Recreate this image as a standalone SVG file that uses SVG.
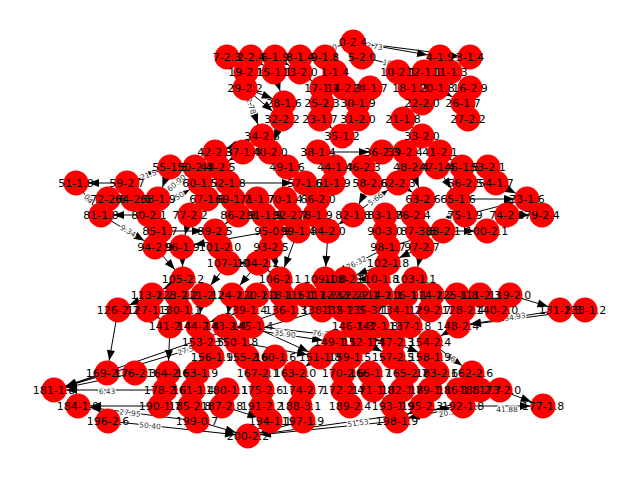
<svg xmlns="http://www.w3.org/2000/svg" width="640" height="480" viewBox="0 0 640 480">
<style>
.bg{fill:#fff}
.node circle{fill:#ff0000}
#edges line{stroke:#000;stroke-width:1;marker-end:url(#arr)}
#node-labels text{font-family:"DejaVu Sans","Liberation Sans",sans-serif;font-size:11px;fill:#000;text-anchor:middle;dominant-baseline:central}
#edge-labels text{font-family:"DejaVu Sans","Liberation Sans",sans-serif;font-size:7.5px;fill:#333;text-anchor:middle;dominant-baseline:central;paint-order:stroke;stroke:#fff;stroke-width:2.5px}
</style>
<defs>
<marker id="arr" markerUnits="userSpaceOnUse" viewBox="-30 -10 30 20" markerWidth="30" markerHeight="20" refX="0" refY="0" orient="auto"><path d="M-23,-4 L-12.5,0 L-23,4 z" fill="#000"/></marker>
</defs>
<rect class="bg" x="0" y="0" width="640" height="480"/>
<g id="edges">
<line x1="353" y1="42" x2="300" y2="57"/>
<line x1="353" y1="42" x2="440" y2="57"/>
<line x1="353" y1="42" x2="470" y2="57"/>
<line x1="362" y1="57" x2="424" y2="72"/>
<line x1="440" y1="57" x2="470" y2="57"/>
<line x1="245" y1="88" x2="284" y2="103"/>
<line x1="245" y1="88" x2="282" y2="119"/>
<line x1="245" y1="88" x2="262" y2="136"/>
<line x1="262" y1="136" x2="215" y2="152"/>
<line x1="227" y1="57" x2="246" y2="72"/>
<line x1="251" y1="57" x2="274" y2="72"/>
<line x1="275" y1="57" x2="300" y2="72"/>
<line x1="300" y1="72" x2="322" y2="88"/>
<line x1="325" y1="57" x2="335" y2="72"/>
<line x1="335" y1="72" x2="344" y2="88"/>
<line x1="322" y1="88" x2="322" y2="103"/>
<line x1="322" y1="103" x2="320" y2="119"/>
<line x1="284" y1="103" x2="282" y2="119"/>
<line x1="370" y1="88" x2="358" y2="103"/>
<line x1="358" y1="103" x2="358" y2="119"/>
<line x1="344" y1="88" x2="370" y2="88"/>
<line x1="398" y1="72" x2="410" y2="88"/>
<line x1="424" y1="72" x2="437" y2="88"/>
<line x1="450" y1="72" x2="470" y2="88"/>
<line x1="410" y1="88" x2="422" y2="103"/>
<line x1="437" y1="88" x2="463" y2="103"/>
<line x1="422" y1="103" x2="403" y2="119"/>
<line x1="463" y1="103" x2="468" y2="119"/>
<line x1="358" y1="119" x2="342" y2="136"/>
<line x1="403" y1="119" x2="422" y2="136"/>
<line x1="318" y1="152" x2="382" y2="152"/>
<line x1="422" y1="136" x2="440" y2="152"/>
<line x1="382" y1="152" x2="405" y2="152"/>
<line x1="320" y1="119" x2="342" y2="136"/>
<line x1="282" y1="119" x2="270" y2="152"/>
<line x1="243" y1="152" x2="215" y2="152"/>
<line x1="470" y1="88" x2="468" y2="119"/>
<line x1="274" y1="72" x2="284" y2="103"/>
<line x1="246" y1="72" x2="245" y2="88"/>
<line x1="215" y1="152" x2="195" y2="167"/>
<line x1="243" y1="152" x2="218" y2="167"/>
<line x1="270" y1="152" x2="287" y2="167"/>
<line x1="318" y1="152" x2="335" y2="167"/>
<line x1="382" y1="152" x2="363" y2="167"/>
<line x1="405" y1="152" x2="411" y2="167"/>
<line x1="440" y1="152" x2="437" y2="167"/>
<line x1="262" y1="136" x2="270" y2="152"/>
<line x1="440" y1="152" x2="462" y2="167"/>
<line x1="127" y1="183" x2="76" y2="183"/>
<line x1="127" y1="183" x2="170" y2="167"/>
<line x1="76" y1="183" x2="101" y2="215"/>
<line x1="149" y1="215" x2="101" y2="215"/>
<line x1="101" y1="215" x2="155" y2="247"/>
<line x1="158" y1="199" x2="195" y2="167"/>
<line x1="149" y1="215" x2="200" y2="183"/>
<line x1="160" y1="231" x2="215" y2="231"/>
<line x1="155" y1="247" x2="183" y2="279"/>
<line x1="182" y1="247" x2="183" y2="279"/>
<line x1="272" y1="231" x2="182" y2="247"/>
<line x1="228" y1="183" x2="305" y2="183"/>
<line x1="271" y1="247" x2="280" y2="279"/>
<line x1="328" y1="231" x2="325" y2="279"/>
<line x1="388" y1="247" x2="325" y2="279"/>
<line x1="388" y1="263" x2="345" y2="279"/>
<line x1="422" y1="247" x2="415" y2="279"/>
<line x1="388" y1="247" x2="443" y2="231"/>
<line x1="353" y1="215" x2="398" y2="183"/>
<line x1="443" y1="231" x2="458" y2="199"/>
<line x1="443" y1="231" x2="487" y2="231"/>
<line x1="465" y1="215" x2="527" y2="199"/>
<line x1="458" y1="199" x2="527" y2="199"/>
<line x1="507" y1="215" x2="542" y2="215"/>
<line x1="496" y1="183" x2="527" y2="199"/>
<line x1="170" y1="167" x2="158" y2="199"/>
<line x1="218" y1="167" x2="228" y2="183"/>
<line x1="200" y1="183" x2="207" y2="199"/>
<line x1="228" y1="183" x2="233" y2="199"/>
<line x1="233" y1="199" x2="238" y2="215"/>
<line x1="207" y1="199" x2="190" y2="215"/>
<line x1="257" y1="199" x2="264" y2="215"/>
<line x1="285" y1="199" x2="290" y2="215"/>
<line x1="318" y1="199" x2="315" y2="215"/>
<line x1="287" y1="167" x2="305" y2="183"/>
<line x1="305" y1="183" x2="285" y2="199"/>
<line x1="335" y1="167" x2="333" y2="183"/>
<line x1="333" y1="183" x2="318" y2="199"/>
<line x1="363" y1="167" x2="370" y2="183"/>
<line x1="370" y1="183" x2="353" y2="215"/>
<line x1="398" y1="183" x2="423" y2="199"/>
<line x1="411" y1="167" x2="423" y2="199"/>
<line x1="437" y1="167" x2="458" y2="199"/>
<line x1="462" y1="167" x2="465" y2="183"/>
<line x1="488" y1="167" x2="496" y2="183"/>
<line x1="465" y1="183" x2="465" y2="215"/>
<line x1="423" y1="199" x2="413" y2="215"/>
<line x1="413" y1="215" x2="418" y2="231"/>
<line x1="385" y1="215" x2="385" y2="231"/>
<line x1="353" y1="215" x2="328" y2="231"/>
<line x1="315" y1="215" x2="328" y2="231"/>
<line x1="290" y1="215" x2="298" y2="231"/>
<line x1="264" y1="215" x2="272" y2="231"/>
<line x1="238" y1="215" x2="215" y2="231"/>
<line x1="215" y1="231" x2="220" y2="247"/>
<line x1="220" y1="247" x2="228" y2="263"/>
<line x1="228" y1="263" x2="258" y2="263"/>
<line x1="272" y1="231" x2="271" y2="247"/>
<line x1="271" y1="247" x2="258" y2="263"/>
<line x1="298" y1="231" x2="280" y2="279"/>
<line x1="385" y1="231" x2="388" y2="247"/>
<line x1="418" y1="231" x2="422" y2="247"/>
<line x1="422" y1="247" x2="388" y2="263"/>
<line x1="388" y1="263" x2="378" y2="279"/>
<line x1="378" y1="279" x2="345" y2="279"/>
<line x1="415" y1="279" x2="406" y2="295"/>
<line x1="507" y1="215" x2="487" y2="231"/>
<line x1="160" y1="231" x2="155" y2="247"/>
<line x1="190" y1="215" x2="182" y2="247"/>
<line x1="133" y1="199" x2="108" y2="199"/>
<line x1="158" y1="199" x2="149" y2="215"/>
<line x1="108" y1="199" x2="101" y2="215"/>
<line x1="258" y1="263" x2="280" y2="279"/>
<line x1="183" y1="279" x2="152" y2="295"/>
<line x1="183" y1="279" x2="177" y2="295"/>
<line x1="228" y1="263" x2="203" y2="295"/>
<line x1="258" y1="263" x2="232" y2="295"/>
<line x1="280" y1="279" x2="282" y2="295"/>
<line x1="325" y1="279" x2="326" y2="295"/>
<line x1="345" y1="279" x2="358" y2="295"/>
<line x1="378" y1="279" x2="381" y2="295"/>
<line x1="415" y1="279" x2="432" y2="295"/>
<line x1="510" y1="295" x2="560" y2="310"/>
<line x1="560" y1="310" x2="458" y2="326"/>
<line x1="585" y1="310" x2="458" y2="326"/>
<line x1="152" y1="295" x2="118" y2="310"/>
<line x1="177" y1="295" x2="180" y2="310"/>
<line x1="203" y1="295" x2="198" y2="326"/>
<line x1="232" y1="295" x2="225" y2="326"/>
<line x1="257" y1="295" x2="252" y2="326"/>
<line x1="282" y1="295" x2="286" y2="310"/>
<line x1="305" y1="295" x2="322" y2="310"/>
<line x1="326" y1="295" x2="343" y2="310"/>
<line x1="341" y1="295" x2="367" y2="310"/>
<line x1="358" y1="295" x2="353" y2="326"/>
<line x1="381" y1="295" x2="377" y2="326"/>
<line x1="406" y1="295" x2="400" y2="310"/>
<line x1="432" y1="295" x2="430" y2="310"/>
<line x1="457" y1="295" x2="463" y2="310"/>
<line x1="480" y1="295" x2="497" y2="310"/>
<line x1="463" y1="310" x2="458" y2="326"/>
<line x1="430" y1="310" x2="410" y2="326"/>
<line x1="400" y1="310" x2="410" y2="326"/>
<line x1="377" y1="326" x2="393" y2="342"/>
<line x1="353" y1="326" x2="363" y2="342"/>
<line x1="410" y1="326" x2="430" y2="342"/>
<line x1="458" y1="326" x2="430" y2="342"/>
<line x1="430" y1="342" x2="472" y2="373"/>
<line x1="180" y1="310" x2="170" y2="326"/>
<line x1="148" y1="310" x2="170" y2="326"/>
<line x1="118" y1="310" x2="107" y2="373"/>
<line x1="198" y1="326" x2="203" y2="342"/>
<line x1="225" y1="326" x2="237" y2="342"/>
<line x1="203" y1="342" x2="212" y2="357"/>
<line x1="237" y1="342" x2="247" y2="357"/>
<line x1="247" y1="357" x2="258" y2="373"/>
<line x1="275" y1="357" x2="295" y2="373"/>
<line x1="258" y1="373" x2="262" y2="390"/>
<line x1="262" y1="390" x2="262" y2="406"/>
<line x1="262" y1="406" x2="270" y2="421"/>
<line x1="303" y1="390" x2="300" y2="406"/>
<line x1="300" y1="406" x2="303" y2="421"/>
<line x1="295" y1="373" x2="303" y2="390"/>
<line x1="320" y1="357" x2="295" y2="373"/>
<line x1="335" y1="342" x2="350" y2="357"/>
<line x1="363" y1="342" x2="393" y2="357"/>
<line x1="393" y1="342" x2="430" y2="357"/>
<line x1="350" y1="357" x2="343" y2="373"/>
<line x1="393" y1="357" x2="407" y2="373"/>
<line x1="343" y1="373" x2="343" y2="390"/>
<line x1="370" y1="373" x2="373" y2="390"/>
<line x1="407" y1="373" x2="402" y2="390"/>
<line x1="437" y1="373" x2="430" y2="390"/>
<line x1="343" y1="390" x2="350" y2="406"/>
<line x1="373" y1="390" x2="393" y2="406"/>
<line x1="402" y1="390" x2="422" y2="406"/>
<line x1="458" y1="390" x2="463" y2="406"/>
<line x1="227" y1="390" x2="222" y2="406"/>
<line x1="193" y1="390" x2="190" y2="406"/>
<line x1="165" y1="390" x2="160" y2="406"/>
<line x1="168" y1="373" x2="165" y2="390"/>
<line x1="170" y1="326" x2="168" y2="373"/>
<line x1="322" y1="310" x2="54" y2="390"/>
<line x1="286" y1="310" x2="54" y2="390"/>
<line x1="165" y1="390" x2="54" y2="390"/>
<line x1="160" y1="406" x2="78" y2="406"/>
<line x1="197" y1="421" x2="78" y2="406"/>
<line x1="108" y1="421" x2="248" y2="436"/>
<line x1="197" y1="421" x2="248" y2="436"/>
<line x1="248" y1="436" x2="463" y2="406"/>
<line x1="222" y1="406" x2="270" y2="421"/>
<line x1="397" y1="421" x2="248" y2="436"/>
<line x1="463" y1="406" x2="397" y2="421"/>
<line x1="500" y1="390" x2="397" y2="421"/>
<line x1="500" y1="390" x2="543" y2="406"/>
<line x1="463" y1="406" x2="543" y2="406"/>
<line x1="225" y1="326" x2="335" y2="342"/>
<line x1="252" y1="326" x2="320" y2="357"/>
<line x1="237" y1="342" x2="320" y2="357"/>
<line x1="252" y1="326" x2="393" y2="342"/>
<line x1="246" y1="310" x2="198" y2="326"/>
<line x1="197" y1="373" x2="197" y2="421"/>
<line x1="212" y1="357" x2="197" y2="373"/>
<line x1="135" y1="373" x2="54" y2="390"/>
<line x1="107" y1="373" x2="54" y2="390"/>
<line x1="430" y1="357" x2="437" y2="373"/>
<line x1="472" y1="373" x2="458" y2="390"/>
<line x1="480" y1="390" x2="500" y2="390"/>
<line x1="270" y1="421" x2="248" y2="436"/>
<line x1="303" y1="421" x2="248" y2="436"/>
<line x1="422" y1="406" x2="397" y2="421"/>
</g>
<g id="edge-labels">
<text transform="rotate(-15.8 326.5 49.5)" x="326.5" y="49.5">39.90</text>
<text transform="rotate(9.8 372 46)" x="372" y="46">32.73</text>
<text transform="rotate(13.6 393 64.5)" x="393" y="64.5">18.92</text>
<text transform="rotate(70.5 251 106)" x="251" y="106">2.78</text>
<text transform="rotate(-20.4 148.5 175)" x="148.5" y="175">21.5</text>
<text transform="rotate(52 88.5 199)" x="88.5" y="199">04</text>
<text transform="rotate(30.6 128 231)" x="128" y="231">9.34</text>
<text transform="rotate(-40.9 176.5 183)" x="176.5" y="183">60.90</text>
<text transform="rotate(-32.1 174.5 199)" x="174.5" y="199">50.50</text>
<text transform="rotate(-26.9 356.5 263)" x="356.5" y="263">76.32</text>
<text transform="rotate(-35.4 375.5 199)" x="375.5" y="199">5.66</text>
<text transform="rotate(-64.9 450.5 215)" x="450.5" y="215">1.17</text>
<text transform="rotate(-8.9 515 317)" x="515" y="317">34.93</text>
<text transform="rotate(36.4 451 357.5)" x="451" y="357.5">46</text>
<text transform="rotate(-16.6 188 350)" x="188" y="350">27.56</text>
<text x="107" y="391">6.43</text>
<text transform="rotate(7.2 130 413)" x="130" y="413">27.95</text>
<text transform="rotate(6.1 150 426)" x="150" y="426">50.40</text>
<text transform="rotate(-7.9 358 423)" x="358" y="423">51.53</text>
<text transform="rotate(-12 447 413)" x="447" y="413">20.5</text>
<text x="507" y="409">41.88</text>
<text transform="rotate(8.3 285 334)" x="285" y="334">35.90</text>
<text transform="rotate(6.5 323 334)" x="323" y="334">76.20</text>
</g>
<g id="node-0" class="node"><circle cx="353" cy="42" r="12.5"/></g>
<g id="node-1" class="node"><circle cx="335" cy="72" r="12.5"/></g>
<g id="node-2" class="node"><circle cx="251" cy="57" r="12.5"/></g>
<g id="node-3" class="node"><circle cx="470" cy="57" r="12.5"/></g>
<g id="node-4" class="node"><circle cx="440" cy="57" r="12.5"/></g>
<g id="node-5" class="node"><circle cx="362" cy="57" r="12.5"/></g>
<g id="node-6" class="node"><circle cx="275" cy="57" r="12.5"/></g>
<g id="node-7" class="node"><circle cx="227" cy="57" r="12.5"/></g>
<g id="node-8" class="node"><circle cx="300" cy="57" r="12.5"/></g>
<g id="node-9" class="node"><circle cx="325" cy="57" r="12.5"/></g>
<g id="node-10" class="node"><circle cx="398" cy="72" r="12.5"/></g>
<g id="node-11" class="node"><circle cx="450" cy="72" r="12.5"/></g>
<g id="node-12" class="node"><circle cx="424" cy="72" r="12.5"/></g>
<g id="node-13" class="node"><circle cx="300" cy="72" r="12.5"/></g>
<g id="node-14" class="node"><circle cx="344" cy="88" r="12.5"/></g>
<g id="node-15" class="node"><circle cx="274" cy="72" r="12.5"/></g>
<g id="node-16" class="node"><circle cx="470" cy="88" r="12.5"/></g>
<g id="node-17" class="node"><circle cx="322" cy="88" r="12.5"/></g>
<g id="node-18" class="node"><circle cx="410" cy="88" r="12.5"/></g>
<g id="node-19" class="node"><circle cx="246" cy="72" r="12.5"/></g>
<g id="node-20" class="node"><circle cx="437" cy="88" r="12.5"/></g>
<g id="node-21" class="node"><circle cx="403" cy="119" r="12.5"/></g>
<g id="node-22" class="node"><circle cx="422" cy="103" r="12.5"/></g>
<g id="node-23" class="node"><circle cx="320" cy="119" r="12.5"/></g>
<g id="node-24" class="node"><circle cx="370" cy="88" r="12.5"/></g>
<g id="node-25" class="node"><circle cx="322" cy="103" r="12.5"/></g>
<g id="node-26" class="node"><circle cx="463" cy="103" r="12.5"/></g>
<g id="node-27" class="node"><circle cx="468" cy="119" r="12.5"/></g>
<g id="node-28" class="node"><circle cx="284" cy="103" r="12.5"/></g>
<g id="node-29" class="node"><circle cx="245" cy="88" r="12.5"/></g>
<g id="node-30" class="node"><circle cx="358" cy="103" r="12.5"/></g>
<g id="node-31" class="node"><circle cx="358" cy="119" r="12.5"/></g>
<g id="node-32" class="node"><circle cx="282" cy="119" r="12.5"/></g>
<g id="node-33" class="node"><circle cx="422" cy="136" r="12.5"/></g>
<g id="node-34" class="node"><circle cx="262" cy="136" r="12.5"/></g>
<g id="node-35" class="node"><circle cx="342" cy="136" r="12.5"/></g>
<g id="node-36" class="node"><circle cx="382" cy="152" r="12.5"/></g>
<g id="node-37" class="node"><circle cx="243" cy="152" r="12.5"/></g>
<g id="node-38" class="node"><circle cx="318" cy="152" r="12.5"/></g>
<g id="node-39" class="node"><circle cx="405" cy="152" r="12.5"/></g>
<g id="node-40" class="node"><circle cx="270" cy="152" r="12.5"/></g>
<g id="node-41" class="node"><circle cx="440" cy="152" r="12.5"/></g>
<g id="node-42" class="node"><circle cx="215" cy="152" r="12.5"/></g>
<g id="node-43" class="node"><circle cx="218" cy="167" r="12.5"/></g>
<g id="node-44" class="node"><circle cx="335" cy="167" r="12.5"/></g>
<g id="node-45" class="node"><circle cx="462" cy="167" r="12.5"/></g>
<g id="node-46" class="node"><circle cx="363" cy="167" r="12.5"/></g>
<g id="node-47" class="node"><circle cx="437" cy="167" r="12.5"/></g>
<g id="node-48" class="node"><circle cx="411" cy="167" r="12.5"/></g>
<g id="node-49" class="node"><circle cx="287" cy="167" r="12.5"/></g>
<g id="node-50" class="node"><circle cx="195" cy="167" r="12.5"/></g>
<g id="node-51" class="node"><circle cx="76" cy="183" r="12.5"/></g>
<g id="node-52" class="node"><circle cx="228" cy="183" r="12.5"/></g>
<g id="node-53" class="node"><circle cx="488" cy="167" r="12.5"/></g>
<g id="node-54" class="node"><circle cx="496" cy="183" r="12.5"/></g>
<g id="node-55" class="node"><circle cx="170" cy="167" r="12.5"/></g>
<g id="node-56" class="node"><circle cx="465" cy="183" r="12.5"/></g>
<g id="node-57" class="node"><circle cx="305" cy="183" r="12.5"/></g>
<g id="node-58" class="node"><circle cx="370" cy="183" r="12.5"/></g>
<g id="node-59" class="node"><circle cx="127" cy="183" r="12.5"/></g>
<g id="node-60" class="node"><circle cx="200" cy="183" r="12.5"/></g>
<g id="node-61" class="node"><circle cx="333" cy="183" r="12.5"/></g>
<g id="node-62" class="node"><circle cx="398" cy="183" r="12.5"/></g>
<g id="node-63" class="node"><circle cx="423" cy="199" r="12.5"/></g>
<g id="node-64" class="node"><circle cx="133" cy="199" r="12.5"/></g>
<g id="node-65" class="node"><circle cx="458" cy="199" r="12.5"/></g>
<g id="node-66" class="node"><circle cx="318" cy="199" r="12.5"/></g>
<g id="node-67" class="node"><circle cx="207" cy="199" r="12.5"/></g>
<g id="node-68" class="node"><circle cx="158" cy="199" r="12.5"/></g>
<g id="node-69" class="node"><circle cx="233" cy="199" r="12.5"/></g>
<g id="node-70" class="node"><circle cx="285" cy="199" r="12.5"/></g>
<g id="node-71" class="node"><circle cx="257" cy="199" r="12.5"/></g>
<g id="node-72" class="node"><circle cx="108" cy="199" r="12.5"/></g>
<g id="node-73" class="node"><circle cx="527" cy="199" r="12.5"/></g>
<g id="node-74" class="node"><circle cx="507" cy="215" r="12.5"/></g>
<g id="node-75" class="node"><circle cx="465" cy="215" r="12.5"/></g>
<g id="node-76" class="node"><circle cx="413" cy="215" r="12.5"/></g>
<g id="node-77" class="node"><circle cx="190" cy="215" r="12.5"/></g>
<g id="node-78" class="node"><circle cx="315" cy="215" r="12.5"/></g>
<g id="node-79" class="node"><circle cx="542" cy="215" r="12.5"/></g>
<g id="node-80" class="node"><circle cx="149" cy="215" r="12.5"/></g>
<g id="node-81" class="node"><circle cx="101" cy="215" r="12.5"/></g>
<g id="node-82" class="node"><circle cx="353" cy="215" r="12.5"/></g>
<g id="node-83" class="node"><circle cx="385" cy="215" r="12.5"/></g>
<g id="node-84" class="node"><circle cx="328" cy="231" r="12.5"/></g>
<g id="node-85" class="node"><circle cx="160" cy="231" r="12.5"/></g>
<g id="node-86" class="node"><circle cx="238" cy="215" r="12.5"/></g>
<g id="node-87" class="node"><circle cx="418" cy="231" r="12.5"/></g>
<g id="node-88" class="node"><circle cx="443" cy="231" r="12.5"/></g>
<g id="node-89" class="node"><circle cx="215" cy="231" r="12.5"/></g>
<g id="node-90" class="node"><circle cx="385" cy="231" r="12.5"/></g>
<g id="node-91" class="node"><circle cx="264" cy="215" r="12.5"/></g>
<g id="node-92" class="node"><circle cx="290" cy="215" r="12.5"/></g>
<g id="node-93" class="node"><circle cx="271" cy="247" r="12.5"/></g>
<g id="node-94" class="node"><circle cx="155" cy="247" r="12.5"/></g>
<g id="node-95" class="node"><circle cx="272" cy="231" r="12.5"/></g>
<g id="node-96" class="node"><circle cx="182" cy="247" r="12.5"/></g>
<g id="node-97" class="node"><circle cx="422" cy="247" r="12.5"/></g>
<g id="node-98" class="node"><circle cx="388" cy="247" r="12.5"/></g>
<g id="node-99" class="node"><circle cx="298" cy="231" r="12.5"/></g>
<g id="node-100" class="node"><circle cx="487" cy="231" r="12.5"/></g>
<g id="node-101" class="node"><circle cx="220" cy="247" r="12.5"/></g>
<g id="node-102" class="node"><circle cx="388" cy="263" r="12.5"/></g>
<g id="node-103" class="node"><circle cx="415" cy="279" r="12.5"/></g>
<g id="node-104" class="node"><circle cx="258" cy="263" r="12.5"/></g>
<g id="node-105" class="node"><circle cx="183" cy="279" r="12.5"/></g>
<g id="node-106" class="node"><circle cx="280" cy="279" r="12.5"/></g>
<g id="node-107" class="node"><circle cx="228" cy="263" r="12.5"/></g>
<g id="node-108" class="node"><circle cx="345" cy="279" r="12.5"/></g>
<g id="node-109" class="node"><circle cx="325" cy="279" r="12.5"/></g>
<g id="node-110" class="node"><circle cx="378" cy="279" r="12.5"/></g>
<g id="node-111" class="node"><circle cx="480" cy="295" r="12.5"/></g>
<g id="node-112" class="node"><circle cx="358" cy="295" r="12.5"/></g>
<g id="node-113" class="node"><circle cx="152" cy="295" r="12.5"/></g>
<g id="node-114a" class="node"><circle cx="381" cy="295" r="12.5"/></g>
<g id="node-114b" class="node"><circle cx="432" cy="295" r="12.5"/></g>
<g id="node-115" class="node"><circle cx="305" cy="295" r="12.5"/></g>
<g id="node-116" class="node"><circle cx="406" cy="295" r="12.5"/></g>
<g id="node-117" class="node"><circle cx="326" cy="295" r="12.5"/></g>
<g id="node-118" class="node"><circle cx="282" cy="295" r="12.5"/></g>
<g id="node-119" class="node"><circle cx="510" cy="295" r="12.5"/></g>
<g id="node-120" class="node"><circle cx="257" cy="295" r="12.5"/></g>
<g id="node-121" class="node"><circle cx="203" cy="295" r="12.5"/></g>
<g id="node-122" class="node"><circle cx="341" cy="295" r="12.5"/></g>
<g id="node-123" class="node"><circle cx="177" cy="295" r="12.5"/></g>
<g id="node-124" class="node"><circle cx="232" cy="295" r="12.5"/></g>
<g id="node-125" class="node"><circle cx="457" cy="295" r="12.5"/></g>
<g id="node-126" class="node"><circle cx="118" cy="310" r="12.5"/></g>
<g id="node-127" class="node"><circle cx="148" cy="310" r="12.5"/></g>
<g id="node-128" class="node"><circle cx="463" cy="310" r="12.5"/></g>
<g id="node-129" class="node"><circle cx="430" cy="310" r="12.5"/></g>
<g id="node-130" class="node"><circle cx="180" cy="310" r="12.5"/></g>
<g id="node-131" class="node"><circle cx="560" cy="310" r="12.5"/></g>
<g id="node-132" class="node"><circle cx="343" cy="310" r="12.5"/></g>
<g id="node-133" class="node"><circle cx="585" cy="310" r="12.5"/></g>
<g id="node-134" class="node"><circle cx="400" cy="310" r="12.5"/></g>
<g id="node-135" class="node"><circle cx="367" cy="310" r="12.5"/></g>
<g id="node-136" class="node"><circle cx="286" cy="310" r="12.5"/></g>
<g id="node-137" class="node"><circle cx="410" cy="326" r="12.5"/></g>
<g id="node-138" class="node"><circle cx="322" cy="310" r="12.5"/></g>
<g id="node-139" class="node"><circle cx="246" cy="310" r="12.5"/></g>
<g id="node-140" class="node"><circle cx="497" cy="310" r="12.5"/></g>
<g id="node-141" class="node"><circle cx="170" cy="326" r="12.5"/></g>
<g id="node-142" class="node"><circle cx="377" cy="326" r="12.5"/></g>
<g id="node-143" class="node"><circle cx="225" cy="326" r="12.5"/></g>
<g id="node-144" class="node"><circle cx="198" cy="326" r="12.5"/></g>
<g id="node-145" class="node"><circle cx="252" cy="326" r="12.5"/></g>
<g id="node-146" class="node"><circle cx="353" cy="326" r="12.5"/></g>
<g id="node-147" class="node"><circle cx="393" cy="342" r="12.5"/></g>
<g id="node-148" class="node"><circle cx="458" cy="326" r="12.5"/></g>
<g id="node-149" class="node"><circle cx="335" cy="342" r="12.5"/></g>
<g id="node-150" class="node"><circle cx="237" cy="342" r="12.5"/></g>
<g id="node-151" class="node"><circle cx="320" cy="357" r="12.5"/></g>
<g id="node-152" class="node"><circle cx="363" cy="342" r="12.5"/></g>
<g id="node-153" class="node"><circle cx="203" cy="342" r="12.5"/></g>
<g id="node-154" class="node"><circle cx="430" cy="342" r="12.5"/></g>
<g id="node-155" class="node"><circle cx="247" cy="357" r="12.5"/></g>
<g id="node-156" class="node"><circle cx="212" cy="357" r="12.5"/></g>
<g id="node-157" class="node"><circle cx="393" cy="357" r="12.5"/></g>
<g id="node-158" class="node"><circle cx="430" cy="357" r="12.5"/></g>
<g id="node-159" class="node"><circle cx="350" cy="357" r="12.5"/></g>
<g id="node-160" class="node"><circle cx="275" cy="357" r="12.5"/></g>
<g id="node-161" class="node"><circle cx="193" cy="390" r="12.5"/></g>
<g id="node-162" class="node"><circle cx="472" cy="373" r="12.5"/></g>
<g id="node-163a" class="node"><circle cx="197" cy="373" r="12.5"/></g>
<g id="node-163b" class="node"><circle cx="295" cy="373" r="12.5"/></g>
<g id="node-164" class="node"><circle cx="168" cy="373" r="12.5"/></g>
<g id="node-165" class="node"><circle cx="407" cy="373" r="12.5"/></g>
<g id="node-166" class="node"><circle cx="370" cy="373" r="12.5"/></g>
<g id="node-167" class="node"><circle cx="258" cy="373" r="12.5"/></g>
<g id="node-169" class="node"><circle cx="107" cy="373" r="12.5"/></g>
<g id="node-170" class="node"><circle cx="343" cy="373" r="12.5"/></g>
<g id="node-171" class="node"><circle cx="373" cy="390" r="12.5"/></g>
<g id="node-172" class="node"><circle cx="343" cy="390" r="12.5"/></g>
<g id="node-173" class="node"><circle cx="500" cy="390" r="12.5"/></g>
<g id="node-174" class="node"><circle cx="303" cy="390" r="12.5"/></g>
<g id="node-175" class="node"><circle cx="262" cy="390" r="12.5"/></g>
<g id="node-176" class="node"><circle cx="135" cy="373" r="12.5"/></g>
<g id="node-177" class="node"><circle cx="543" cy="406" r="12.5"/></g>
<g id="node-178" class="node"><circle cx="165" cy="390" r="12.5"/></g>
<g id="node-179" class="node"><circle cx="430" cy="390" r="12.5"/></g>
<g id="node-180" class="node"><circle cx="227" cy="390" r="12.5"/></g>
<g id="node-181" class="node"><circle cx="54" cy="390" r="12.5"/></g>
<g id="node-182" class="node"><circle cx="402" cy="390" r="12.5"/></g>
<g id="node-183" class="node"><circle cx="437" cy="373" r="12.5"/></g>
<g id="node-184" class="node"><circle cx="78" cy="406" r="12.5"/></g>
<g id="node-185a" class="node"><circle cx="480" cy="390" r="12.5"/></g>
<g id="node-185b" class="node"><circle cx="190" cy="406" r="12.5"/></g>
<g id="node-186" class="node"><circle cx="458" cy="390" r="12.5"/></g>
<g id="node-187" class="node"><circle cx="222" cy="406" r="12.5"/></g>
<g id="node-188" class="node"><circle cx="300" cy="406" r="12.5"/></g>
<g id="node-189" class="node"><circle cx="350" cy="406" r="12.5"/></g>
<g id="node-190" class="node"><circle cx="160" cy="406" r="12.5"/></g>
<g id="node-191" class="node"><circle cx="262" cy="406" r="12.5"/></g>
<g id="node-192" class="node"><circle cx="463" cy="406" r="12.5"/></g>
<g id="node-193" class="node"><circle cx="393" cy="406" r="12.5"/></g>
<g id="node-194" class="node"><circle cx="270" cy="421" r="12.5"/></g>
<g id="node-195" class="node"><circle cx="422" cy="406" r="12.5"/></g>
<g id="node-196" class="node"><circle cx="108" cy="421" r="12.5"/></g>
<g id="node-197" class="node"><circle cx="303" cy="421" r="12.5"/></g>
<g id="node-198" class="node"><circle cx="397" cy="421" r="12.5"/></g>
<g id="node-199" class="node"><circle cx="197" cy="421" r="12.5"/></g>
<g id="node-200" class="node"><circle cx="248" cy="436" r="12.5"/></g>
<g id="node-labels">
<text x="353" y="42">0-2.4</text>
<text x="335" y="72">1-1.4</text>
<text x="251" y="57">2-2.4</text>
<text x="470" y="57">3-1.4</text>
<text x="440" y="57">4-1.9</text>
<text x="362" y="57">5-2.0</text>
<text x="275" y="57">6-1.9</text>
<text x="227" y="57">7-2.3</text>
<text x="300" y="57">8-1.4</text>
<text x="325" y="57">9-1.8</text>
<text x="398" y="72">10-2.1</text>
<text x="450" y="72">11-1.3</text>
<text x="424" y="72">12-1.1</text>
<text x="300" y="72">13-2.0</text>
<text x="344" y="88">14-2.2</text>
<text x="274" y="72">15-1.1</text>
<text x="470" y="88">16-2.9</text>
<text x="322" y="88">17-1.1</text>
<text x="410" y="88">18-1.2</text>
<text x="246" y="72">19-2.1</text>
<text x="437" y="88">20-1.8</text>
<text x="403" y="119">21-1.8</text>
<text x="422" y="103">22-2.0</text>
<text x="320" y="119">23-1.7</text>
<text x="370" y="88">24-1.7</text>
<text x="322" y="103">25-2.3</text>
<text x="463" y="103">26-1.7</text>
<text x="468" y="119">27-2.2</text>
<text x="284" y="103">28-1.6</text>
<text x="245" y="88">29-2.2</text>
<text x="358" y="103">30-1.9</text>
<text x="358" y="119">31-2.0</text>
<text x="282" y="119">32-2.2</text>
<text x="422" y="136">33-2.0</text>
<text x="262" y="136">34-2.6</text>
<text x="342" y="136">35-1.2</text>
<text x="382" y="152">36-2.3</text>
<text x="243" y="152">37-1.4</text>
<text x="318" y="152">38-1.4</text>
<text x="405" y="152">39-2.4</text>
<text x="270" y="152">40-2.0</text>
<text x="440" y="152">41-2.1</text>
<text x="215" y="152">42-2.3</text>
<text x="218" y="167">43-2.5</text>
<text x="335" y="167">44-1.4</text>
<text x="462" y="167">45-1.5</text>
<text x="363" y="167">46-2.3</text>
<text x="437" y="167">47-1.4</text>
<text x="411" y="167">48-2.4</text>
<text x="287" y="167">49-1.6</text>
<text x="195" y="167">50-2.4</text>
<text x="76" y="183">51-1.8</text>
<text x="228" y="183">52-1.8</text>
<text x="488" y="167">53-2.1</text>
<text x="496" y="183">54-1.7</text>
<text x="170" y="167">55-1.5</text>
<text x="465" y="183">56-2.5</text>
<text x="305" y="183">57-1.6</text>
<text x="370" y="183">58-2.6</text>
<text x="127" y="183">59-2.7</text>
<text x="200" y="183">60-1.5</text>
<text x="333" y="183">61-1.9</text>
<text x="398" y="183">62-2.3</text>
<text x="423" y="199">63-2.6</text>
<text x="133" y="199">64-2.6</text>
<text x="458" y="199">65-1.6</text>
<text x="318" y="199">66-2.0</text>
<text x="207" y="199">67-1.6</text>
<text x="158" y="199">68-1.9</text>
<text x="233" y="199">69-1.7</text>
<text x="285" y="199">70-1.4</text>
<text x="257" y="199">71-1.7</text>
<text x="108" y="199">72-2.6</text>
<text x="527" y="199">73-1.6</text>
<text x="507" y="215">74-2.0</text>
<text x="465" y="215">75-1.9</text>
<text x="413" y="215">76-2.4</text>
<text x="190" y="215">77-2.2</text>
<text x="315" y="215">78-1.9</text>
<text x="542" y="215">79-2.4</text>
<text x="149" y="215">80-2.1</text>
<text x="101" y="215">81-1.8</text>
<text x="353" y="215">82-1.8</text>
<text x="385" y="215">83-1.8</text>
<text x="328" y="231">84-2.0</text>
<text x="160" y="231">85-1.7</text>
<text x="238" y="215">86-2.9</text>
<text x="418" y="231">87-3.8</text>
<text x="443" y="231">88-2.1</text>
<text x="215" y="231">89-2.5</text>
<text x="385" y="231">90-3.0</text>
<text x="264" y="215">91-1.9</text>
<text x="290" y="215">92-2.7</text>
<text x="271" y="247">93-2.5</text>
<text x="155" y="247">94-2.9</text>
<text x="272" y="231">95-0.9</text>
<text x="182" y="247">96-1.9</text>
<text x="422" y="247">97-2.7</text>
<text x="388" y="247">98-1.7</text>
<text x="298" y="231">99-1.4</text>
<text x="487" y="231">100-2.1</text>
<text x="220" y="247">101-2.0</text>
<text x="388" y="263">102-1.8</text>
<text x="415" y="279">103-1.1</text>
<text x="258" y="263">104-2.2</text>
<text x="183" y="279">105-2.2</text>
<text x="280" y="279">106-2.1</text>
<text x="228" y="263">107-1.0</text>
<text x="345" y="279">108-2.1</text>
<text x="325" y="279">109-1.0</text>
<text x="378" y="279">110-1.8</text>
<text x="480" y="295">111-2.3</text>
<text x="358" y="295">112-2.1</text>
<text x="152" y="295">113-2.2</text>
<text x="381" y="295">114-2.1</text>
<text x="432" y="295">114-2.2</text>
<text x="305" y="295">115-1.1</text>
<text x="406" y="295">116-1.1</text>
<text x="326" y="295">117-2.2</text>
<text x="282" y="295">118-1.1</text>
<text x="510" y="295">119-2.0</text>
<text x="257" y="295">120-2.1</text>
<text x="203" y="295">121-2.2</text>
<text x="341" y="295">122-2.2</text>
<text x="177" y="295">123-2.2</text>
<text x="232" y="295">124-2.2</text>
<text x="457" y="295">125-1.8</text>
<text x="118" y="310">126-2.2</text>
<text x="148" y="310">127-1.3</text>
<text x="463" y="310">128-2.4</text>
<text x="430" y="310">129-2.7</text>
<text x="180" y="310">130-1.1</text>
<text x="560" y="310">131-2.3</text>
<text x="343" y="310">132-2.3</text>
<text x="585" y="310">133-1.2</text>
<text x="400" y="310">134-1.2</text>
<text x="367" y="310">135-3.1</text>
<text x="286" y="310">136-1.3</text>
<text x="410" y="326">137-1.8</text>
<text x="322" y="310">138-1.5</text>
<text x="246" y="310">139-1.4</text>
<text x="497" y="310">140-2.0</text>
<text x="170" y="326">141-2.4</text>
<text x="377" y="326">142-1.8</text>
<text x="225" y="326">143-2.4</text>
<text x="198" y="326">144-2.4</text>
<text x="252" y="326">145-1.4</text>
<text x="353" y="326">146-1.3</text>
<text x="393" y="342">147-2.3</text>
<text x="458" y="326">148-2.4</text>
<text x="335" y="342">149-1.1</text>
<text x="237" y="342">150-1.8</text>
<text x="320" y="357">151-1.8</text>
<text x="363" y="342">152-1.4</text>
<text x="203" y="342">153-2.5</text>
<text x="430" y="342">154-2.4</text>
<text x="247" y="357">155-2.6</text>
<text x="212" y="357">156-1.9</text>
<text x="393" y="357">157-2.5</text>
<text x="430" y="357">158-1.9</text>
<text x="350" y="357">159-1.5</text>
<text x="275" y="357">160-1.6</text>
<text x="193" y="390">161-1.4</text>
<text x="472" y="373">162-2.6</text>
<text x="197" y="373">163-1.9</text>
<text x="295" y="373">163-2.0</text>
<text x="168" y="373">164-2.6</text>
<text x="407" y="373">165-2.7</text>
<text x="370" y="373">166-1.7</text>
<text x="258" y="373">167-2.1</text>
<text x="107" y="373">169-2.7</text>
<text x="343" y="373">170-2.6</text>
<text x="373" y="390">171-1.8</text>
<text x="343" y="390">172-2.4</text>
<text x="500" y="390">173-2.0</text>
<text x="303" y="390">174-2.7</text>
<text x="262" y="390">175-2.6</text>
<text x="135" y="373">176-2.3</text>
<text x="543" y="406">177-1.8</text>
<text x="165" y="390">178-2.6</text>
<text x="430" y="390">179-1.1</text>
<text x="227" y="390">180-1.1</text>
<text x="54" y="390">181-1.8</text>
<text x="402" y="390">182-1.8</text>
<text x="437" y="373">183-2.6</text>
<text x="78" y="406">184-1.9</text>
<text x="480" y="390">185-2.7</text>
<text x="190" y="406">185-2.8</text>
<text x="458" y="390">186-1.8</text>
<text x="222" y="406">187-2.8</text>
<text x="300" y="406">188-3.1</text>
<text x="350" y="406">189-2.4</text>
<text x="160" y="406">190-1.7</text>
<text x="262" y="406">191-2.2</text>
<text x="463" y="406">192-1.8</text>
<text x="393" y="406">193-1.9</text>
<text x="270" y="421">194-1.1</text>
<text x="422" y="406">195-2.3</text>
<text x="108" y="421">196-2.6</text>
<text x="303" y="421">197-1.9</text>
<text x="397" y="421">198-1.9</text>
<text x="197" y="421">199-0.7</text>
<text x="248" y="436">200-2.2</text>
</g>
</svg>
